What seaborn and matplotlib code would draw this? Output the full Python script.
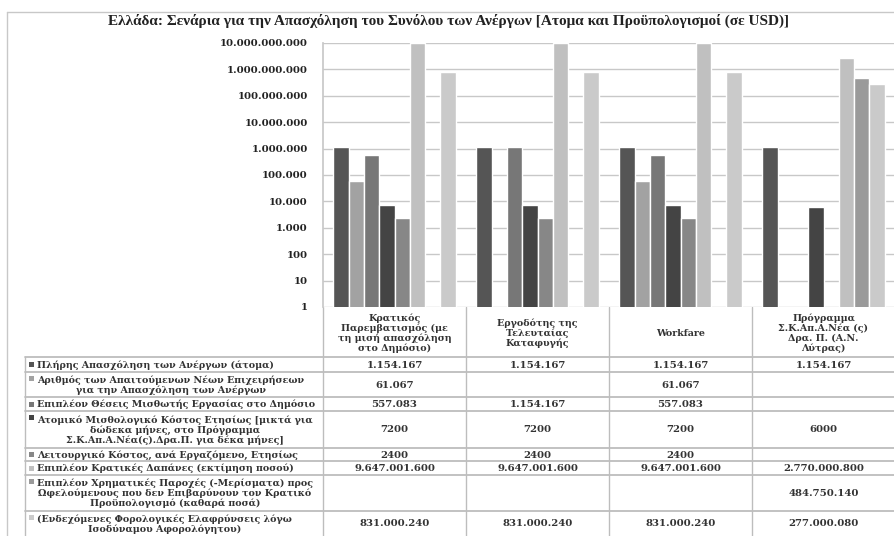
import numpy as np
import pandas as pd
import seaborn as sns
import matplotlib.pyplot as plt
from matplotlib.ticker import FuncFormatter, LogLocator, NullLocator

title = 'Ελλάδα: Σενάρια για την Απασχόληση του Συνόλου των Ανέργων [Ατομα και Προϋπολογισμοί (σε USD)]'

scenarios = ['Κρατικός\nΠαρεμβατισμός (με\nτη μισή απασχόληση\nστο Δημόσιο)',
             'Εργοδότης της\nΤελευταίας\nΚαταφυγής',
             'Workfare',
             'Πρόγραμμα\nΣ.Κ.Απ.Α.Νέα (ς)\nΔρα. Π. (Α.Ν.\nΛύτρας)']

series = ['Πλήρης Απασχόληση των Ανέργων (άτομα)',
          'Αριθμός των Απαιτούμενων Νέων Επιχειρήσεων\nγια την Απασχόληση των Ανέργων',
          'Επιπλέον Θέσεις Μισθωτής Εργασίας στο Δημόσιο',
          'Ατομικό Μισθολογικό Κόστος Ετησίως [μικτά για\nδώδεκα μήνες, στο Πρόγραμμα\nΣ.Κ.Απ.Α.Νέα(ς).Δρα.Π. για δέκα μήνες]',
          'Λειτουργικό Κόστος, ανά Εργαζόμενο, Ετησίως',
          'Επιπλέον Κρατικές Δαπάνες (εκτίμηση ποσού)',
          'Επιπλέον Χρηματικές Παροχές (-Μερίσματα) προς\nΩφελούμενους που δεν Επιβαρύνουν τον Κρατικό\nΠροϋπολογισμό (καθαρά ποσά)',
          '(Ενδεχόμενες Φορολογικές Ελαφρύνσεις λόγω\nΙσοδύναμου Αφορολόγητου)']

full_employment = [1154167, 1154167, 1154167, 1154167]
new_firms = [61067, np.nan, 61067, np.nan]
public_jobs = [557083, 1154167, 557083, np.nan]
wage_cost = [7200, 7200, 7200, 6000]
operating_cost = [2400, 2400, 2400, np.nan]
state_spending = [9647001600, 9647001600, 9647001600, 2770000800]
dividends = [np.nan, np.nan, np.nan, 484750140]
tax_relief = [831000240, 831000240, 831000240, 277000080]

values = [full_employment, new_firms, public_jobs, wage_cost,
          operating_cost, state_spending, dividends, tax_relief]
colors = ['#555555', '#a2a2a2', '#777777', '#444444',
          '#878787', '#c0c0c0', '#9a9a9a', '#cacaca']

rows = []
for s, vals in zip(series, values):
    for sc, v in zip(scenarios, vals):
        rows.append({'Scenario': sc, 'Series': s, 'Value': v})
df = pd.DataFrame(rows)


def dots(v):
    return f'{v:,.0f}'.replace(',', '.')


def fmt(v):
    # table cells: small numbers are shown without separators
    if pd.isna(v):
        return ''
    if v >= 10000:
        return dots(v)
    return f'{v:.0f}'


sns.set_theme(style='white')
plt.rcParams['font.family'] = ['DejaVu Serif']
W, H = 894, 536
fig = plt.figure(figsize=(W / 100, H / 100), dpi=100)

# pixel overlay for frame, title and the data table
ov = fig.add_axes([0, 0, 1, 1], zorder=0)
ov.set_xlim(0, W)
ov.set_ylim(H, 0)
ov.axis('off')

x0, x1, y_top, y_bot = 323, 895, 43, 307
ax = fig.add_axes([x0 / W, 1 - y_bot / H, (x1 - x0) / W, (y_bot - y_top) / H], zorder=1)
ax.set_yscale('log')
sns.barplot(data=df, x='Scenario', y='Value', hue='Series', hue_order=series,
            order=scenarios, palette=colors, width=0.855, gap=0, dodge=True,
            errorbar=None, legend=False, ax=ax, saturation=1)
ax.set_ylim(1, 1e10)
ax.set_xlim(-0.5, 3.5)
ax.yaxis.set_major_locator(LogLocator(base=10, numticks=12))
ax.yaxis.set_minor_locator(NullLocator())
ax.yaxis.set_major_formatter(FuncFormatter(lambda v, p: dots(v)))
ax.set_xticks([])
ax.set_xlabel('')
ax.set_ylabel('')
ax.grid(axis='y', color='#c8c8c8', lw=1)
ax.set_axisbelow(True)
for sp in ['top', 'right', 'bottom']:
    ax.spines[sp].set_visible(False)
ax.spines['left'].set_color('#c8c8c8')
ax.tick_params(axis='y', length=0, pad=11, labelsize=7.3, labelcolor='#222222')
for t in ax.get_yticklabels():
    t.set_fontweight('bold')

# outer chart frame
ov.plot([7, W + 5, W + 5, 7, 7], [12, 12, H + 5, H + 5, 12], color='#c8c8c8', lw=1)
ov.text(W / 2 + 2, 21, title, ha='center', va='center', fontsize=11, fontweight='bold',
        color='#222222', family='Liberation Serif')

# data table
line_c = '#bdbdbd'
cols = [x0 + k * (x1 - x0) / 4 for k in range(5)]
row_edges = [357, 372, 397, 411, 448, 461, 475, 511, 536]
header_top = y_bot
for cx in cols[:4]:
    ov.plot([cx, cx], [header_top, H], color=line_c, lw=1)
ov.plot([25, 25], [row_edges[0], H], color=line_c, lw=1)
for ry in row_edges[:-1]:
    ov.plot([25, W], [ry, ry], color=line_c, lw=1.3)
for k, sc in enumerate(scenarios):
    ov.text((cols[k] + cols[k + 1]) / 2, (header_top + row_edges[0]) / 2 + 1, sc,
            ha='center', va='center', multialignment='center', fontsize=6.8,
            fontweight='bold', color='#333333', linespacing=1.08)
for i, (s, vals) in enumerate(zip(series, values)):
    ya, yb = row_edges[i], row_edges[i + 1]
    ym = (ya + yb) / 2
    first_y = ym - (s.count('\n')) * 6.0
    ov.add_patch(plt.Rectangle((29, first_y - 2.5), 5, 5, color=colors[i], lw=0))
    ov.text(37, ym + 0.5, s, ha='left', va='center', multialignment='center',
            fontsize=6.8, fontweight='bold', color='#333333', linespacing=1.06)
    for k, v in enumerate(vals):
        ov.text((cols[k] + cols[k + 1]) / 2, ym + 0.5, fmt(v), ha='center', va='center',
                fontsize=7.3, fontweight='bold', color='#333333')

fig.savefig('out.png', dpi=100)
